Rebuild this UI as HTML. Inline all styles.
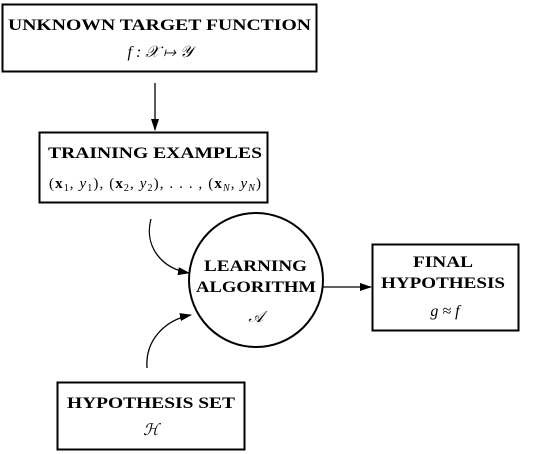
<!DOCTYPE html>
<html><head><meta charset="utf-8"><style>
html,body{margin:0;padding:0;background:#fff;width:548px;height:454px;overflow:hidden}
svg text{font-family:"Liberation Serif",serif}
.t{font-weight:bold;font-size:16px}
.m{font-style:italic;font-size:16px}
</style></head><body>
<svg width="548" height="454" viewBox="0 0 548 454" xmlns="http://www.w3.org/2000/svg">
<defs><marker id="a" markerWidth="12" markerHeight="8" refX="11" refY="4" orient="auto" markerUnits="userSpaceOnUse"><path d="M0,0 L12,4 L0,8 Z" fill="#000"/></marker></defs>
<g fill="none" stroke="#000">
<rect x="2.5" y="4.5" width="314" height="67" stroke-width="2"/>
<rect x="39.5" y="132.5" width="228" height="70" stroke-width="2"/>
<rect x="372.5" y="244.5" width="146" height="86" stroke-width="2"/>
<rect x="57.5" y="382.5" width="187" height="67" stroke-width="2"/>
<circle cx="256" cy="280" r="67" stroke-width="2"/>
<line x1="155" y1="83" x2="155" y2="130" stroke-width="1.3" marker-end="url(#a)"/>
<line x1="323" y1="287" x2="371" y2="287" stroke-width="1.3" marker-end="url(#a)"/>
<path d="M151,219 C144,245 160,268 189,273" stroke-width="1.3" marker-end="url(#a)"/>
<path d="M147,368 C145,340 165,320 191,315" stroke-width="1.3" marker-end="url(#a)"/>
</g>
<g fill="#000">
<text class="t" x="8" y="30" textLength="303" lengthAdjust="spacingAndGlyphs">UNKNOWN TARGET FUNCTION</text>
<text class="m" x="160" y="57" text-anchor="middle">f : 𝒳 ↦ 𝒴</text>
<text class="t" x="48" y="158" textLength="214" lengthAdjust="spacingAndGlyphs">TRAINING EXAMPLES</text>
<text x="49" y="188" font-size="15" textLength="212" lengthAdjust="spacing">(<tspan font-weight="bold">x</tspan><tspan font-size="10" dy="3">1</tspan><tspan dy="-3">, </tspan><tspan font-style="italic">y</tspan><tspan font-size="10" dy="3">1</tspan><tspan dy="-3">), (</tspan><tspan font-weight="bold">x</tspan><tspan font-size="10" dy="3">2</tspan><tspan dy="-3">, </tspan><tspan font-style="italic">y</tspan><tspan font-size="10" dy="3">2</tspan><tspan dy="-3">), . . . , (</tspan><tspan font-weight="bold">x</tspan><tspan font-size="10" font-style="italic" dy="3">N</tspan><tspan dy="-3">, </tspan><tspan font-style="italic">y</tspan><tspan font-size="10" font-style="italic" dy="3">N</tspan><tspan dy="-3">)</tspan></text>
<text class="t" x="204" y="271" textLength="103" lengthAdjust="spacingAndGlyphs">LEARNING</text>
<text class="t" x="196" y="292" textLength="120" lengthAdjust="spacingAndGlyphs">ALGORITHM</text>
<text class="m" x="256" y="322" text-anchor="middle">𝒜</text>
<text class="t" x="413" y="267" textLength="60" lengthAdjust="spacingAndGlyphs">FINAL</text>
<text class="t" x="381" y="288" textLength="124" lengthAdjust="spacingAndGlyphs">HYPOTHESIS</text>
<text class="m" x="445" y="316" text-anchor="middle">g ≈ f</text>
<text class="t" x="67" y="408" textLength="168" lengthAdjust="spacingAndGlyphs">HYPOTHESIS SET</text>
<text class="m" x="151" y="435" text-anchor="middle">ℋ</text>
</g>
</svg>
</body></html>
